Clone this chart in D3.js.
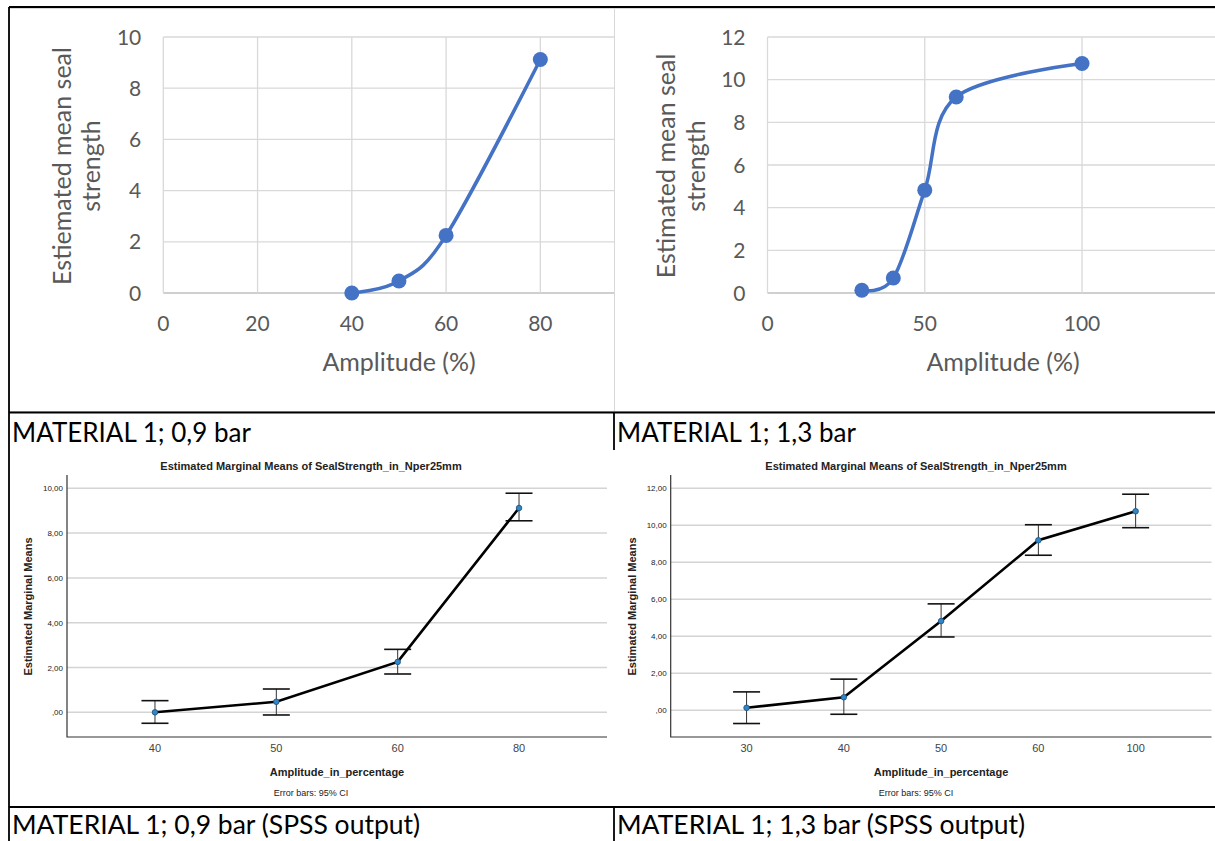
<!DOCTYPE html>
<html>
<head>
<meta charset="utf-8">
<script src="https://cdn.jsdelivr.net/npm/d3@7"></script>
<style>
  body { margin: 0; background: #fff; }
  svg { display: block; }
  .excel text { font-family: Lato, 'Open Sans', sans-serif; fill: #595959; }
  .spss text { font-family: 'Liberation Sans', Arial, sans-serif; fill: #222; }
  .caption { font-family: Lato, sans-serif; fill: #000; }
</style>
</head>
<body>
<script>
(function(){

// DATA

    // material 1, 0,9 bar
    const ampA = [40, 50, 60, 80];
    const meanA = [0.0, 0.47, 2.25, 9.12];
    const lowA = [-0.49, -0.12, 1.71, 8.55];
    const highA = [0.52, 1.04, 2.81, 9.78];

    // material 1, 1,3 bar
    const ampB = [30, 40, 50, 60, 100];
    const meanB = [0.13, 0.70, 4.82, 9.19, 10.76];
    const lowB = [-0.72, -0.22, 3.96, 8.38, 9.87];
    const highB = [0.99, 1.68, 5.75, 10.03, 11.68];

    // excel axes (last x tick lies outside the cropped picture)
    const xTicksA = [0, 20, 40, 60, 80];
    const yTicksA = [0, 2, 4, 6, 8, 10];
    const xTicksB = [0, 50, 100];
    const yTicksB = [0, 2, 4, 6, 8, 10, 12];

    // spss axes
    const spssTicksA = [0, 2, 4, 6, 8, 10];
    const spssLabelsA = [',00', '2,00', '4,00', '6,00', '8,00', '10,00'];
    const spssTicksB = [0, 2, 4, 6, 8, 10, 12];
    const spssLabelsB = [',00', '2,00', '4,00', '6,00', '8,00', '10,00', '12,00'];

    const captions = [
        'MATERIAL 1; 0,9 bar',
        'MATERIAL 1; 1,3 bar',
        'MATERIAL 1; 0,9 bar (SPSS output)',
        'MATERIAL 1; 1,3 bar (SPSS output)'
    ];

    const width = 1215,
        height = 841;

    const svg = d3.select('body')
        .append('svg')
        .attr('width', width)
        .attr('height', height);

    const defs = svg.append('defs');

    function clip(id, x, y, w, h){
        defs.append('clipPath')
            .attr('id', id)
            .append('rect')
            .attr('x', x).attr('y', y)
            .attr('width', w).attr('height', h);
        return 'url(#' + id + ')';
    };

// EXCEL CHART

function excelChart(opts){
    const g = svg.append('g')
        .attr('class', 'excel')
        .attr('clip-path', clip(opts.id, opts.box[0], opts.box[1], opts.box[2], opts.box[3]));

    g.append('rect')
        .attr('x', opts.box[0] + 0.5)
        .attr('y', opts.box[1] + 0.5)
        .attr('width', opts.box[2] + 20)
        .attr('height', opts.box[3] - 1)
        .attr('fill', '#fff')
        .attr('stroke', '#d9d9d9');

    const x = opts.x, y = opts.y;
    const [x0, x1] = x.range(), [y0, y1] = y.range();

    g.selectAll('.hgrid')
        .data(opts.yTicks)
        .enter()
        .append('line')
        .attr('x1', x0).attr('x2', x1)
        .attr('y1', d => y(d)).attr('y2', d => y(d))
        .attr('stroke', d => d === 0 ? '#bfbfbf' : '#d9d9d9')
        .attr('stroke-width', 1.3);

    g.selectAll('.vgrid')
        .data(opts.xTicks.concat(x.domain()[1]))
        .enter()
        .append('line')
        .attr('x1', d => x(d)).attr('x2', d => x(d))
        .attr('y1', y0).attr('y2', y1)
        .attr('stroke', '#d9d9d9')
        .attr('stroke-width', 1.3);

    g.selectAll('.ylab')
        .data(opts.yTicks)
        .enter()
        .append('text')
        .attr('x', x0 - 22)
        .attr('y', d => y(d) + 7.5)
        .attr('text-anchor', 'end')
        .style('font-size', '21px')
        .text(d => d);

    g.selectAll('.xlab')
        .data(opts.xTicks)
        .enter()
        .append('text')
        .attr('x', d => x(d))
        .attr('y', y0 + 38)
        .attr('text-anchor', 'middle')
        .style('font-size', '21px')
        .text(d => d);

    g.append('text')
        .attr('x', opts.xTitle[0])
        .attr('y', opts.xTitle[1])
        .attr('text-anchor', 'middle')
        .style('font-size', '25px')
        .text('Amplitude (%)');

    opts.yTitle.forEach(function(t){
        g.append('text')
            .attr('transform', 'translate(' + t[0] + ',' + t[1] + ') rotate(-90)')
            .attr('text-anchor', 'middle')
            .style('font-size', '25px')
            .text(t[2]);
    });

    const pts = opts.amp.map((a, i) => [x(a), y(opts.mean[i])]);

    g.append('path')
        .datum(pts)
        .attr('d', d3.line().curve(d3.curveCatmullRom.alpha(0)))
        .attr('fill', 'none')
        .attr('stroke', '#4472c4')
        .attr('stroke-width', 3.5);

    g.selectAll('.marker')
        .data(pts)
        .enter()
        .append('circle')
        .attr('cx', d => d[0])
        .attr('cy', d => d[1])
        .attr('r', 7.5)
        .attr('fill', '#4472c4');
};

// SPSS CHART

function spssChart(opts){
    const g = svg.append('g')
        .attr('class', 'spss')
        .attr('clip-path', clip(opts.id, opts.box[0], opts.box[1], opts.box[2], opts.box[3]));

    const x = opts.x, y = opts.y;
    const [fx0, fx1] = x.range();
    const fy0 = 737, fy1 = 475;

    g.selectAll('.grid')
        .data(opts.ticks)
        .enter()
        .append('line')
        .attr('x1', fx0).attr('x2', fx1)
        .attr('y1', d => y(d)).attr('y2', d => y(d))
        .attr('stroke', '#d4d4d4')
        .attr('stroke-width', 1.5);

    g.append('path')
        .attr('d', 'M' + fx0 + ',' + fy1 + 'V' + fy0 + 'H' + fx1)
        .attr('fill', 'none')
        .attr('stroke', '#333')
        .attr('stroke-width', 1.2);

    g.selectAll('.ylab')
        .data(opts.ticks)
        .enter()
        .append('text')
        .attr('x', fx0 - 4)
        .attr('y', d => y(d) + 3)
        .attr('text-anchor', 'end')
        .style('font-size', '8px')
        .text((d, i) => opts.labels[i]);

    g.selectAll('.xlab')
        .data(opts.amp)
        .enter()
        .append('text')
        .attr('x', d => x(d))
        .attr('y', 752)
        .attr('text-anchor', 'middle')
        .style('font-size', '11px')
        .style('fill', '#444')
        .text(d => d);

    const cx = (fx0 + fx1) / 2;

    g.append('text')
        .attr('x', opts.titleX)
        .attr('y', 470)
        .attr('text-anchor', 'middle')
        .style('font-size', '11px')
        .style('font-weight', 'bold')
        .text('Estimated Marginal Means of SealStrength_in_Nper25mm');

    g.append('text')
        .attr('x', cx)
        .attr('y', 775.5)
        .attr('text-anchor', 'middle')
        .style('font-size', '11px')
        .style('font-weight', 'bold')
        .text('Amplitude_in_percentage');

    g.append('text')
        .attr('x', opts.titleX)
        .attr('y', 796)
        .attr('text-anchor', 'middle')
        .style('font-size', '9px')
        .text('Error bars: 95% CI');

    g.append('text')
        .attr('transform', 'translate(' + opts.yTitleX + ',606.5) rotate(-90)')
        .attr('text-anchor', 'middle')
        .style('font-size', '11px')
        .style('font-weight', 'bold')
        .text('Estimated Marginal Means');

    // error bars
    const bars = g.selectAll('.err')
        .data(opts.amp)
        .enter()
        .append('g');

    bars.append('line')
        .attr('x1', d => x(d)).attr('x2', d => x(d))
        .attr('y1', (d, i) => y(opts.low[i]))
        .attr('y2', (d, i) => y(opts.high[i]))
        .attr('stroke', '#333')
        .attr('stroke-width', 1);

    [opts.low, opts.high].forEach(function(arr){
        bars.append('line')
            .attr('x1', d => x(d) - 13.5).attr('x2', d => x(d) + 13.5)
            .attr('y1', (d, i) => y(arr[i]))
            .attr('y2', (d, i) => y(arr[i]))
            .attr('stroke', '#111')
            .attr('stroke-width', 1.6);
    });

    const pts = opts.amp.map((a, i) => [x(a), y(opts.mean[i])]);

    g.append('path')
        .datum(pts)
        .attr('d', d3.line())
        .attr('fill', 'none')
        .attr('stroke', '#000')
        .attr('stroke-width', 2.6);

    g.selectAll('.pt')
        .data(pts)
        .enter()
        .append('circle')
        .attr('cx', d => d[0])
        .attr('cy', d => d[1])
        .attr('r', 2.8)
        .attr('fill', '#2f86c8')
        .attr('stroke', '#1d4f7a')
        .attr('stroke-width', 0.8);
};

// BUILD

    excelChart({
        id: 'clipA',
        box: [9, 8, 605, 404],
        x: d3.scaleLinear().domain([0, 100]).range([163.3, 634.6]),
        y: d3.scaleLinear().domain([0, 10]).range([293, 37]),
        xTicks: xTicksA,
        yTicks: yTicksA,
        amp: ampA,
        mean: meanA,
        xTitle: [399, 371],
        yTitle: [[70.5, 166, 'Estiemated mean seal'], [99.5, 166, 'strength']]
    });

    excelChart({
        id: 'clipB',
        box: [614, 8, 601, 404],
        x: d3.scaleLinear().domain([0, 150]).range([767.5, 1239.3]),
        y: d3.scaleLinear().domain([0, 12]).range([293, 37]),
        xTicks: xTicksB,
        yTicks: yTicksB,
        amp: ampB,
        mean: meanB,
        xTitle: [1003, 371],
        yTitle: [[675, 166, 'Estimated mean seal'], [704.5, 166, 'strength']]
    });

    spssChart({
        id: 'clipC',
        box: [9, 450, 605, 357],
        x: d3.scalePoint().domain(ampA).range([67, 607]).padding(0.725),
        y: d3.scaleLinear().domain([0, 10]).range([712.3, 488.3]),
        ticks: spssTicksA,
        labels: spssLabelsA,
        amp: ampA,
        mean: meanA,
        low: lowA,
        high: highA,
        titleX: 311,
        yTitleX: 32
    });

    spssChart({
        id: 'clipD',
        box: [614, 450, 601, 357],
        x: d3.scalePoint().domain(ampB).range([670.7, 1211.5]).padding(0.78),
        y: d3.scaleLinear().domain([0, 12]).range([710.2, 488.3]),
        ticks: spssTicksB,
        labels: spssLabelsB,
        amp: ampB,
        mean: meanB,
        low: lowB,
        high: highB,
        titleX: 916,
        yTitleX: 636
    });

// TABLE

    const captionPos = [[12, 442], [617, 442], [12, 834], [617, 834]];
    const captionSize = [26, 26, 26.5, 26.5];

    svg.selectAll('.caption')
        .data(captions)
        .enter()
        .append('text')
        .attr('class', 'caption')
        .attr('x', (d, i) => captionPos[i][0])
        .attr('y', (d, i) => captionPos[i][1])
        .style('font-size', (d, i) => captionSize[i] + 'px')
        .text(d => d);

    const rules = [
        [9, 7, width, 7],
        [9, 7, 9, height],
        [9, 412.5, width, 412.5],
        [9, 807, width, 807],
        [614, 412.5, 614, 450],
        [614, 807, 614, height]
    ];

    svg.selectAll('.rule')
        .data(rules)
        .enter()
        .append('line')
        .attr('x1', d => d[0]).attr('y1', d => d[1])
        .attr('x2', d => d[2]).attr('y2', d => d[3])
        .attr('stroke', '#000')
        .attr('stroke-width', 1.8);

})();
</script>
</body>
</html>
